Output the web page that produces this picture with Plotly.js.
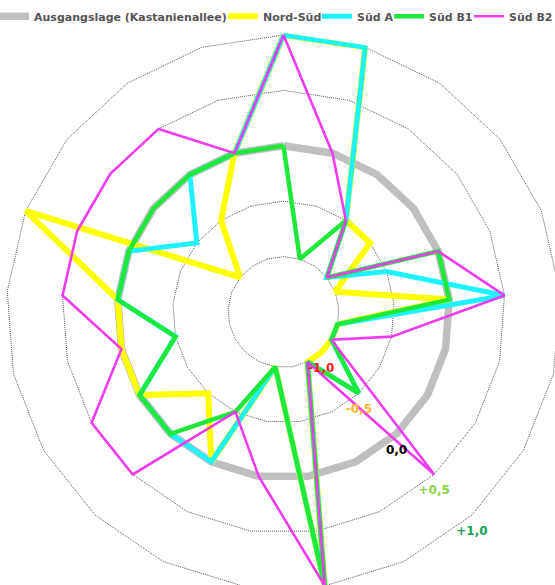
<!DOCTYPE html>
<html><head><meta charset="utf-8">
<script src="https://cdn.plot.ly/plotly-3.0.1.min.js"></script>
<style>
html,body{margin:0;padding:0;background:#fff;overflow:hidden;}
#wrap{position:relative;width:555px;height:585px;overflow:hidden;}
#chart{position:absolute;left:-6px;top:0;width:580px;height:600px;}
</style></head><body><div id="wrap"><div id="chart"></div></div>
<script>
// 21 spokes (category labels are not shown in the chart)
var spokes = ['1','2','3','4','5','6','7','8','9','10','11','12','13','14','15','16','17','18','19','20','21'];

var ausgangslage = [0, 0, 0, 0, 0, 0, 0, 0, 0, 0, 0, 0, 0, 0, 0, 0, 0, 0, 0, 0, 0];
var nordSued     = [1, 1, -0.5, -0.5, -1, 0, -1, -1, -1, -1, 1, -1, 0, -0.5, 0, 0, 0, 1, -1, -0.5, 0];
var suedA        = [1, 1, -0.5, -1, -0.5, 0.5, -1, -1, -0.5, -1, 1, -1, 0, 0, 0, -0.5, 0, 0, -0.5, 0, 0];
var suedB1       = [0, -1, -0.5, -1, 0, 0, -1, -1, -0.5, -1, 1, -1, -0.5, 0, 0, -0.5, 0, 0, 0, 0, 0];
var suedB2       = [1, 0, -0.5, -1, 0, 0.5, -0.5, -1, 0.5, -1, 1, 0, -0.5, 0.5, 0.5, 0, 0.5, 0.5, 0.5, 0.5, 0];

var seriesNames = ['Ausgangslage (Kastanienallee)', 'Nord-Süd', 'Süd A', 'Süd B1', 'Süd B2'];

// radial scale (grid rings) and its labels, drawn along spoke 9
var tickVals   = [-1, -0.5, 0, 0.5, 1];
var labelVals  = [-1, -0.5, 0, 0.5, 1];
var tickLabels = ['-1,0', '-0,5', '0,0', '+0,5', '+1,0'];
var tickColors = ['#ff1a1a', '#ffb52e', '#000000', '#8ed24e', '#13a655'];
var labelSpoke = '9';

var seriesData   = [ausgangslage, nordSued, suedA, suedB1, suedB2];
var seriesColors = ['#bfbfbf', '#ffff00', '#1ff2ff', '#1ee83a', '#f03cf0'];
var seriesWidths = [7.5, 6, 5, 4.5, 2.6];
var legendWidths = [184, 49, 27, 35, 44];

function closeLoop(a) { return a.concat([a[0]]); }

var traces = seriesData.map(function (vals, i) {
  return {
    type: 'scatterpolar',
    subplot: 'polar',
    mode: 'lines',
    name: seriesNames[i],
    r: closeLoop(vals),
    theta: closeLoop(spokes),
    line: { color: seriesColors[i], width: seriesWidths[i] },
    legendwidth: legendWidths[i],
    hoverinfo: 'skip'
  };
});

// scale labels on an overlaid (identically scaled) circular polar subplot
traces.push({
  type: 'scatterpolar',
  subplot: 'polar2',
  mode: 'markers+text',
  r: labelVals,
  theta: labelVals.map(function () { return labelSpoke; }),
  text: tickLabels,
  textposition: 'bottom center',
  textfont: { family: 'DejaVu Sans', size: 12, color: tickColors, weight: 'bold' },
  marker: { size: 15.5, color: 'rgba(255,255,255,0)' },
  showlegend: false,
  hoverinfo: 'skip'
});

var rMin = -1.5, rMax = 1.02;
var W = 580, H = 600, cx = 289.5, cy = 312, R = 277 * (rMax - rMin) / 2.5;
var dom = { x: [(cx - R) / W, (cx + R) / W], y: [1 - (cy + R) / H, 1 - (cy - R) / H] };

function angular() {
  return {
    type: 'category', categoryorder: 'array', categoryarray: spokes,
    direction: 'clockwise', rotation: 90,
    showgrid: false, showline: false, showticklabels: false, ticks: ''
  };
}

var layout = {
  width: W, height: H,
  margin: { l: 0, r: 0, t: 0, b: 0 },
  paper_bgcolor: '#ffffff',
  showlegend: true,
  legend: {
    orientation: 'h', x: 0, xanchor: 'left', y: 0.997, yanchor: 'top',
    bgcolor: 'rgba(0,0,0,0)', borderwidth: 0, itemwidth: 30,
    font: { family: 'DejaVu Sans', size: 11, color: '#555555', weight: 'bold' }
  },
  polar: {
    domain: dom,
    bgcolor: 'rgba(0,0,0,0)',
    gridshape: 'linear',
    angularaxis: angular(),
    radialaxis: {
      range: [rMin, rMax], angle: -49,
      tickmode: 'array', tickvals: tickVals,
      showticklabels: false, showline: false, ticks: '',
      showgrid: true, gridcolor: '#555555', gridwidth: 1, griddash: '1px,1px'
    }
  },
  polar2: {
    domain: dom,
    bgcolor: 'rgba(0,0,0,0)',
    gridshape: 'circular',
    angularaxis: angular(),
    radialaxis: {
      range: [rMin, rMax],
      showticklabels: false, showline: false, ticks: '', showgrid: false
    }
  }
};

Plotly.newPlot('chart', traces, layout, { displayModeBar: false, staticPlot: true });
</script></body></html>
